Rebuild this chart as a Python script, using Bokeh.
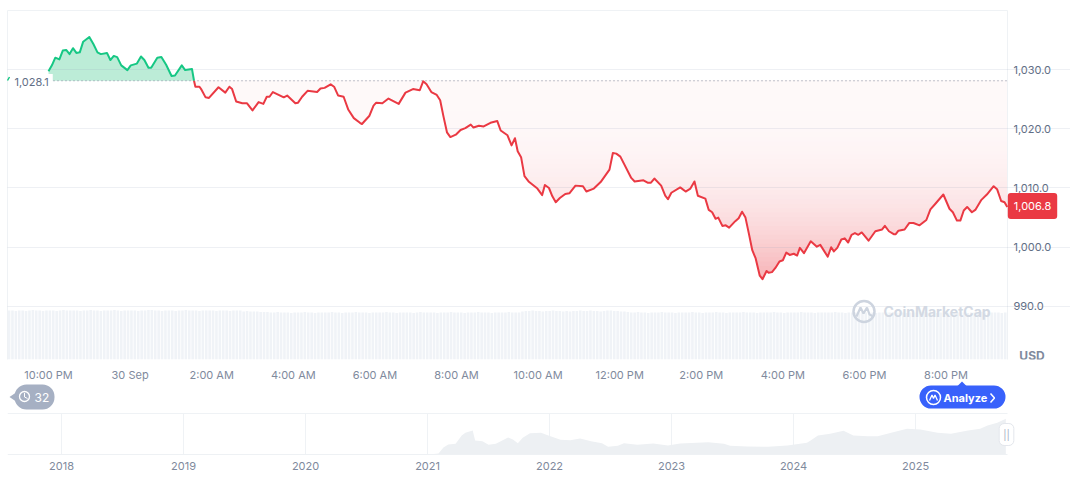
from bokeh.embed import file_html
from bokeh.layouts import column
from bokeh.models import FixedTicker, Label, LinearAxis, NumeralTickFormatter, Range1d
from bokeh.plotting import figure
from bokeh.resources import INLINE

# ---- data -----------------------------------------------------------------
BASELINE = 1028.1
LAST_PRICE = 1006.8

green_minutes = [0, 5, 10, 16, 21, 26, 31, 36, 41, 46, 51, 60, 66, 72, 77, 86, 91, 96, 101, 107, 116, 121, 130, 136,
                 141, 147, 151, 160, 166, 173, 181, 186, 196, 201, 211, 214]
green_price = [1029.7, 1030.7, 1032.0, 1031.7, 1033.2, 1033.3, 1032.6, 1033.6, 1032.8, 1032.9, 1034.7, 1035.5,
               1034.3, 1032.9, 1032.6, 1032.8, 1031.6, 1032.3, 1032.1, 1030.7, 1029.9, 1030.7, 1031.0, 1032.2,
               1031.6, 1030.3, 1030.3, 1032.0, 1032.1, 1030.8, 1028.9, 1029.0, 1030.7, 1029.9, 1030.1, 1028.1]

red_minutes = [214, 216, 222, 225, 231, 236, 250, 260, 266, 270, 276, 285, 292, 300, 309, 316, 321, 325, 330, 346,
               351, 363, 367, 373, 381, 395, 400, 406, 415, 420, 426, 434, 441, 449, 458, 461, 472, 478, 482, 491,
               500, 515, 525, 536, 546, 551, 556, 563, 571, 576, 581, 586, 591, 599, 606, 613, 621, 625, 633, 640,
               650, 660, 665, 675, 681, 686, 690, 695, 700, 706, 719, 726, 730, 736, 741, 746, 752, 760, 766, 775,
               786, 791, 802, 812, 825, 830, 835, 841, 857, 862, 875, 881, 886, 891, 901, 907, 911, 916, 929, 937,
               944, 950, 955, 966, 971, 976, 981, 985, 991, 996, 1001, 1010, 1015, 1020, 1025, 1030, 1035, 1040,
               1046, 1050, 1056, 1059, 1064, 1069, 1075, 1080, 1085, 1090, 1096, 1101, 1105, 1111, 1121, 1130, 1135,
               1146, 1151, 1155, 1160, 1166, 1171, 1176, 1181, 1186, 1191, 1196, 1206, 1216, 1226, 1230, 1236, 1243,
               1246, 1250, 1259, 1266, 1272, 1281, 1291, 1297, 1304, 1316, 1325, 1330, 1336, 1341, 1346, 1351, 1358,
               1363, 1372, 1380, 1390, 1395, 1401, 1406, 1410]
red_price = [1028.1, 1027.1, 1027.1, 1026.6, 1025.3, 1025.2, 1027.0, 1026.1, 1027.1, 1026.7, 1024.6, 1024.3, 1024.3,
             1023.1, 1024.5, 1024.2, 1025.4, 1025.4, 1026.2, 1025.3, 1025.6, 1024.3, 1024.4, 1025.4, 1026.4, 1026.2,
             1026.8, 1026.9, 1027.5, 1027.1, 1025.6, 1025.4, 1023.2, 1021.8, 1021.0, 1020.8, 1022.2, 1023.9, 1024.4,
             1024.3, 1025.1, 1024.2, 1026.1, 1026.7, 1026.5, 1028.0, 1027.5, 1026.2, 1025.7, 1024.8, 1022.0, 1019.4,
             1018.6, 1019.0, 1019.8, 1020.1, 1020.7, 1020.2, 1020.5, 1020.4, 1021.0, 1021.3, 1019.7, 1018.9, 1017.2,
             1018.4, 1016.2, 1015.2, 1012.0, 1011.1, 1009.9, 1008.8, 1010.5, 1010.0, 1008.6, 1007.6, 1008.3, 1009.0,
             1009.1, 1010.4, 1010.3, 1009.4, 1009.9, 1011.0, 1013.1, 1015.9, 1015.8, 1015.3, 1011.7, 1011.1, 1011.3,
             1010.9, 1010.9, 1011.6, 1010.4, 1008.7, 1008.1, 1009.2, 1010.1, 1009.4, 1009.9, 1011.1, 1008.7, 1008.2,
             1006.3, 1005.9, 1004.8, 1005.0, 1003.6, 1003.7, 1003.3, 1004.4, 1004.9, 1006.0, 1005.0, 1002.3, 999.5,
             998.1, 995.2, 994.6, 996.0, 995.7, 995.8, 996.5, 997.6, 997.8, 999.1, 998.7, 998.9, 998.6, 999.9, 999.0,
             1001.0, 1000.1, 1000.4, 998.4, 1000.0, 999.3, 999.9, 1001.3, 1001.5, 1000.8, 1002.1, 1002.4, 1002.1,
             1002.5, 1001.1, 1002.7, 1003.0, 1003.6, 1002.7, 1002.2, 1002.2, 1002.8, 1003.0, 1004.1, 1004.1, 1003.7,
             1004.6, 1006.4, 1007.3, 1008.9, 1006.5, 1005.9, 1004.5, 1004.5, 1006.2, 1006.8, 1005.9, 1006.3, 1008.0,
             1008.9, 1010.3, 1009.8, 1007.8, 1007.6, 1006.8]

volume_start = -58
volume_step = 5
volume = [49, 49, 48.5, 49, 49, 48.5, 49, 49.5, 49, 49, 48.5, 49, 49, 49, 48.5, 49, 49.5, 49, 49, 49,
          49, 48.5, 49, 49, 49.5, 49, 49, 48.5, 49, 49, 49, 49.5, 49, 48.5, 49, 49, 49, 49, 48.5, 49,
          49, 49.5, 49.5, 49, 49, 48.5, 49, 49, 49, 48.5, 49, 49, 49.5, 49, 49, 49, 48.5, 49, 49, 49,
          49, 48.5, 49, 49, 49, 48.5, 49, 49, 49, 48, 48.5, 48, 48, 48, 47.5, 47.5, 47.5,
          47, 47, 47.5, 47, 47, 47, 46.5, 47, 47, 47, 47.5, 47, 47, 46.5, 47, 47, 47, 47, 47.5, 47,
          47, 46.5, 47, 47, 47, 47.5, 47, 47, 47, 46.5, 47, 47, 47, 47, 47.5, 47, 47, 46.5, 47, 47,
          47, 47, 46.5, 47, 47.5, 47, 47, 47, 47, 46.5, 47, 47, 47, 47.5, 47, 47, 47, 46.5, 47, 47,
          47, 47.5, 47, 47, 47, 46.5, 47, 47, 47, 47, 47.5, 47, 47, 47,
          48, 48.5, 48.5, 49, 48.5, 48.5, 48, 48.5, 48.5, 49, 48.5, 48.5, 48, 48.5, 48, 48.5, 48.5, 49, 48.5, 48.5,
          49, 48.5, 48.5, 48, 48.5, 49, 49, 48.5, 48.5, 48, 48, 47.5,
          47, 47, 47.5, 47, 47, 46.5, 47, 47, 47, 47.5, 47, 47, 47, 46.5, 47, 47, 47, 47, 47.5, 47,
          47, 46.5, 47, 47, 47, 47.5, 47, 47, 46.5, 47, 47, 47, 47, 47.5, 47, 47, 47, 46.5, 47, 47,
          47, 47, 47.5, 47, 47, 46.5, 47, 47, 47, 47, 47.5, 47, 47, 47, 46.5, 47, 47, 47, 47, 47,
          47.5, 47, 47, 46.5, 47, 47, 47, 47, 47.5, 47, 47, 47, 46.5, 47, 47, 47, 47, 47.5, 47, 47,
          47, 46.5, 47, 47, 47, 47, 47.5, 47, 47, 47, 46.5, 47, 47, 47, 47, 47.5, 47, 47, 47, 46.5,
          47, 47, 47, 47.5, 47, 47, 47, 47, 47, 46.5, 47, 47, 47.5, 47, 47]

hour_ticks = [0, 120, 240, 360, 480, 600, 720, 840, 960, 1080, 1200, 1320]
hour_labels = ["10:00 PM", "30 Sep", "2:00 AM", "4:00 AM", "6:00 AM", "8:00 AM", "10:00 AM", "12:00 PM",
               "2:00 PM", "4:00 PM", "6:00 PM", "8:00 PM"]
price_ticks = [990, 1000, 1010, 1020, 1030]
year_ticks = [2018, 2019, 2020, 2021, 2022, 2023, 2024, 2025]

nav_year = [2017.56, 2021.05, 2021.09, 2021.13, 2021.17, 2021.23, 2021.28, 2021.31, 2021.37, 2021.39, 2021.45,
            2021.50, 2021.56, 2021.66, 2021.70, 2021.74, 2021.78, 2021.84, 2021.93, 2021.99, 2022.09, 2022.17,
            2022.25, 2022.34, 2022.43, 2022.48, 2022.56, 2022.61, 2022.72, 2022.85, 2022.97, 2023.07, 2023.30,
            2023.43, 2023.48, 2023.62, 2023.79, 2023.95, 2024.11, 2024.14, 2024.20, 2024.30, 2024.41, 2024.49,
            2024.61, 2024.69, 2024.80, 2024.93, 2025.04, 2025.18, 2025.29, 2025.43, 2025.53, 2025.59, 2025.67,
            2025.74]
nav_level = [0.5, 0.5, 1, 7, 10, 10.7, 19, 21.7, 24, 14, 13.3, 9.7, 10.7, 17, 15, 11.3, 16.7, 21.3, 21.7, 19, 14.7,
             14.3, 16, 13.3, 11.3, 7.7, 8.7, 11.3, 9.7, 11, 9, 11, 12.3, 10.7, 8.7, 8, 7.7, 9, 11.7, 14, 19, 20.7,
             23.7, 19, 18.3, 18.3, 21.7, 25.7, 25, 21.7, 20.7, 24, 25.7, 29, 31.7, 35.7]

# ---- colours / fonts --------------------------------------------------------
FONT = "Inter"
GREEN = "#16c784"
RED = "#ea3943"
GRID = "#eff2f5"
TEXT = "#616e85"
MUTED = "#808a9d"
LAST_MINUTE = 1410


def red_tint(value):
    f = min(1.0, max(0.0, (BASELINE - value) / 33.5))
    a = 0.03 + 0.36 * f ** 2.6
    rgb = (0xEA, 0x39, 0x43)
    return "#%02x%02x%02x" % tuple(round(255 + (c - 255) * a) for c in rgb)


# ---- main chart -------------------------------------------------------------
p = figure(width=1070, height=384, output_backend="svg", toolbar_location=None,
           x_range=Range1d(-60.3, 1503), y_range=Range1d(981.05, 1041.65),
           y_axis_location=None, min_border_left=7, min_border_right=0, min_border_top=0,
           min_border_bottom=25, outline_line_color=None, background_fill_color="white")
p.extra_x_ranges = {"px": Range1d(7, 1070)}
p.extra_y_ranges = {"px": Range1d(359, 0), "vol": Range1d(0, 359)}

p.xgrid.visible = False
p.ygrid.ticker = FixedTicker(ticks=price_ticks)
p.ygrid.grid_line_color = "#8f9bb3"
p.ygrid.grid_line_alpha = 0.15
p.ygrid.level = "guide"
p.ygrid.bounds = (-60.3, 1410.3)

p.xaxis.ticker = FixedTicker(ticks=hour_ticks)
p.xaxis.major_label_overrides = dict(zip(hour_ticks, hour_labels))
p.xaxis.axis_line_color = None
p.xaxis.major_tick_line_color = None
p.xaxis.minor_tick_line_color = None
p.xaxis.major_label_text_font = FONT
p.xaxis.major_label_text_font_size = "11px"
p.xaxis.major_label_text_color = MUTED
p.xaxis.major_label_standoff = 2

price_axis = LinearAxis(fixed_location=1410.3, ticker=FixedTicker(ticks=price_ticks),
                        formatter=NumeralTickFormatter(format="0,0.0"), axis_line_color=None,
                        major_tick_line_color=None, minor_tick_line_color=None, major_label_text_font=FONT,
                        major_label_text_font_size="11px", major_label_text_color=TEXT, major_label_standoff=0)
p.add_layout(price_axis, "right")

# frame lines
p.segment(x0=[7, 7, 1007], x1=[1007, 7, 1007], y0=[10, 10, 10], y1=[10, 359, 359], x_range_name="px",
          y_range_name="px", line_color=GRID, line_width=1, level="guide")

# volume
vol_x = [volume_start + i * volume_step for i in range(len(volume))]
vol_kept = [(x, v) for x, v in zip(vol_x, volume) if x <= LAST_MINUTE]
p.vbar(x=[x for x, _ in vol_kept], top=[v for _, v in vol_kept], bottom=0, width=3.8, y_range_name="vol",
       fill_color="#f0f3f7", line_color=None)

# red gradient area, darkest first and each lighter layer painted over it
lowest = min(red_price)
step = 0.75
b = lowest
while b < BASELINE:
    y1 = [min(BASELINE, max(v, b)) for v in red_price]
    p.varea(x=red_minutes, y1=y1, y2=[BASELINE] * len(y1), fill_color=red_tint(b + step / 2), fill_alpha=1)
    b += step

# green area
p.varea(x=green_minutes, y1=green_price, y2=[BASELINE] * len(green_price), fill_color="#bcecd7", fill_alpha=1)

# baseline
p.line(x=[53, 1007], y=[BASELINE, BASELINE], x_range_name="px", line_color=MUTED,
       line_width=1, line_dash=[1, 3], level="guide")

# lines
p.line(green_minutes, green_price, line_color=GREEN, line_width=2, level="annotation", line_join="round")
p.line(red_minutes, red_price, line_color=RED, line_width=2, level="annotation", line_join="round")

# start value tag and the sliver left of it
p.line(x=[7, 9], y=[80, 76.5], x_range_name="px", y_range_name="px", line_color=GREEN, line_width=1.5,
       level="annotation")
p.add_layout(Label(x=10, y=81.5, x_range_name="px", y_range_name="px", text="1,028.1", text_font=FONT,
                   text_font_size="11px", text_color=TEXT, text_align="left", text_baseline="middle",
                   background_fill_color="white", padding=4, level="overlay"))

# watermark
p.scatter(x=[863.5], y=[311], x_range_name="px", y_range_name="px", marker="circle", size=21,
          fill_color=None, line_color="#cdd4df", line_width=2.5, level="annotation")
p.line(x=[856, 860, 863, 866.5, 869, 872], y=[316, 307, 313, 307, 314, 315.5], x_range_name="px", y_range_name="px",
       line_color="#cdd4df", line_width=2.2, level="annotation")
p.add_layout(Label(x=883, y=311, x_range_name="px", y_range_name="px", text="CoinMarketCap", text_font=FONT,
                   text_font_size="14px", text_font_style="bold", text_color="#d3d9e3", text_align="left",
                   text_baseline="middle"))

# current price tag and currency
p.add_layout(Label(x=1032, y=205.5, x_range_name="px", y_range_name="px", text=f"{LAST_PRICE:,.1f}", text_font=FONT,
                   text_font_size="11px", text_color="white", text_align="center", text_baseline="middle",
                   background_fill_color=RED, border_radius=3, padding=(6, 9), level="overlay"))
p.add_layout(Label(x=1031.5, y=355, x_range_name="px", y_range_name="px", text="USD", text_font=FONT,
                   text_font_size="12px", text_font_style="bold", text_color=MUTED, text_align="center",
                   text_baseline="middle", level="overlay"))

# ---- navigator --------------------------------------------------------------
nav = figure(width=1070, height=94, output_backend="svg", toolbar_location=None, margin=(-4, 0, 0, 0),
             x_range=Range1d(2017.557, 2026.27), y_range=Range1d(-1, 74), min_border_left=7, min_border_right=0,
             min_border_top=0, min_border_bottom=19, outline_line_color=None, y_axis_location=None,
             background_fill_color=None, border_fill_color=None)
nav.extra_x_ranges = {"px": Range1d(7, 1070)}
nav.extra_y_ranges = {"px": Range1d(455, 380)}
nav.grid.visible = False
nav.xaxis.ticker = FixedTicker(ticks=year_ticks)
nav.xaxis.formatter = NumeralTickFormatter(format="0")
nav.xaxis.axis_line_color = None
nav.xaxis.major_tick_line_color = None
nav.xaxis.minor_tick_line_color = None
nav.xaxis.major_label_text_font = FONT
nav.xaxis.major_label_text_font_size = "11px"
nav.xaxis.major_label_text_color = MUTED
nav.xaxis.major_label_standoff = 0

nav.segment(x0=year_ticks, x1=year_ticks, y0=[0] * len(year_ticks), y1=[41] * len(year_ticks), line_color=GRID)
nav.segment(x0=[7, 7], x1=[1007, 1007], y0=[413, 454], y1=[413, 454], x_range_name="px", y_range_name="px",
            line_color=GRID)
nav.varea(x=nav_year, y1=nav_level, y2=[0] * len(nav_level), fill_color="#edf0f3")

# history pill
nav.quad(left=[14], right=[54], top=[384], bottom=[409], x_range_name="px", y_range_name="px", border_radius=12,
         fill_color="#a6b0c3", line_color=None)
nav.patch(x=[9, 20, 20], y=[396.5, 389, 404], x_range_name="px", y_range_name="px", fill_color="#a6b0c3",
          line_color=None)
nav.scatter(x=[24], y=[396], x_range_name="px", y_range_name="px", marker="circle", size=10, fill_color=None,
            line_color="white", line_width=1.3)
nav.line(x=[24, 24, 27], y=[392.5, 396.5, 398], x_range_name="px", y_range_name="px", line_color="white", line_width=1)
nav.add_layout(Label(x=34, y=396.5, x_range_name="px", y_range_name="px", text="32", text_font=FONT,
                     text_font_size="12px", text_color="white", text_baseline="middle"))

# analyze pill
nav.quad(left=[919], right=[1005], top=[385], bottom=[408], x_range_name="px", y_range_name="px", border_radius=12,
         fill_color="#3861fb", line_color=None)
nav.patch(x=[957, 961.5, 966], y=[385.5, 381, 385.5], x_range_name="px", y_range_name="px", fill_color="#3861fb",
          line_color=None)
nav.scatter(x=[933], y=[397], x_range_name="px", y_range_name="px", marker="circle", size=14, fill_color=None,
            line_color="white", line_width=1.5)
nav.line(x=[929, 931.5, 933, 934.5, 937], y=[400, 394.5, 398, 394.5, 400], x_range_name="px", y_range_name="px",
         line_color="white", line_width=1.3)
nav.add_layout(Label(x=943, y=397, x_range_name="px", y_range_name="px", text="Analyze", text_font=FONT,
                     text_font_size="11px", text_font_style="bold", text_color="white", text_baseline="middle"))
nav.line(x=[990, 994, 990], y=[393, 397.5, 402], x_range_name="px", y_range_name="px", line_color="white",
         line_width=1.5)

# navigator handle
nav.add_layout(Label(x=1006, y=434, x_range_name="px", y_range_name="px", text="||", text_font=FONT,
                     text_font_size="10px", text_color="#a6b0c3", text_align="center", text_baseline="middle",
                     background_fill_color="white", border_line_color="#e3e6ec", border_radius=5, padding=(4, 5),
                     level="overlay"))

layout = column(p, nav, spacing=0)
open("out.html", "w").write(file_html(layout, INLINE))
